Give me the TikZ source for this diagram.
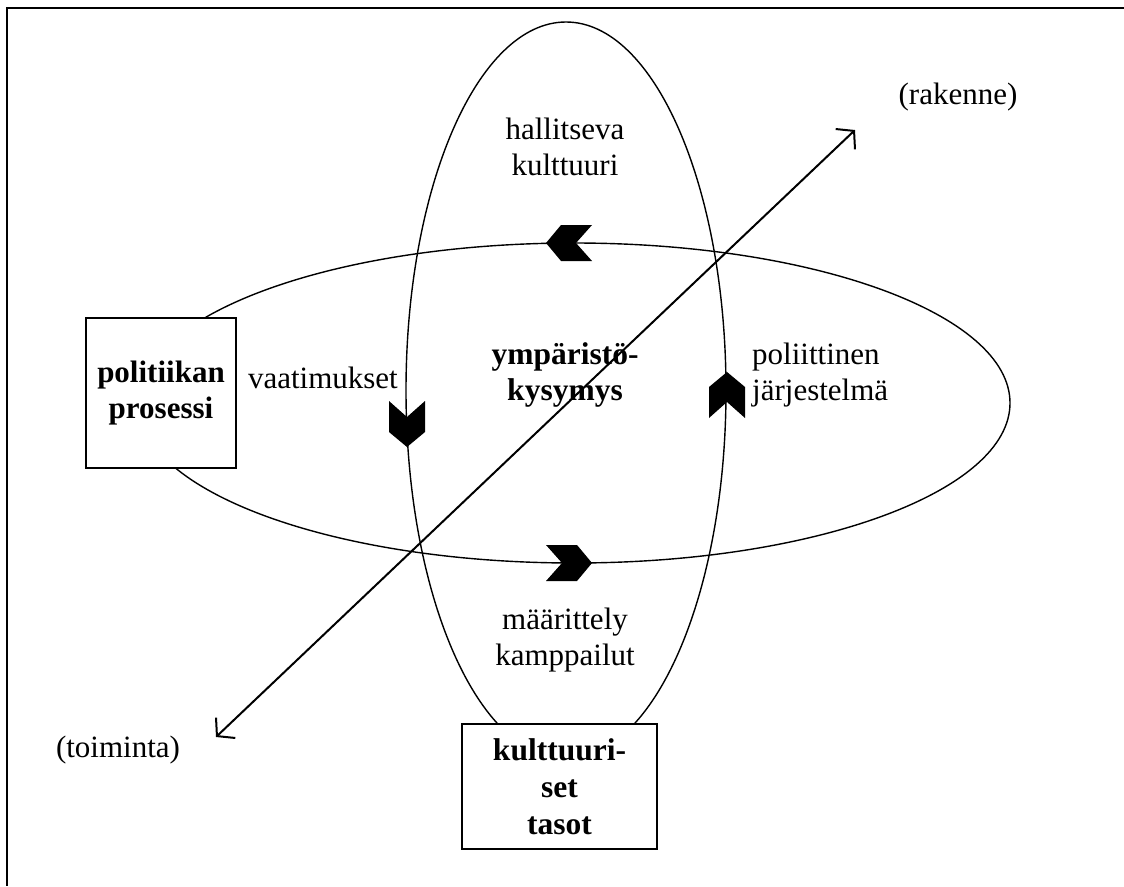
\documentclass[tikz,border=0pt]{standalone}
\usepackage{fontspec}
\setmainfont{Liberation Serif}
\usetikzlibrary{shapes.geometric,arrows.meta}
\begin{document}
\begin{tikzpicture}[x=1pt,y=-1pt,
  reg/.style={font=\fontsize{31}{36}\selectfont, inner sep=0pt, align=center},
  bld/.style={font=\fontsize{31.5}{36}\selectfont\bfseries, inner sep=0pt, align=center},
  ring/.style={draw, line width=1.4pt, ellipse, inner sep=0pt},
  boxnode/.style={draw, fill=white, line width=1.4pt, inner sep=0pt, align=center},
  chevron/.pic={\fill (0,0) -- (-15,18) -- (-46,18) -- (-30,0) -- (-46,-18) -- (-15,-18) -- cycle;}
]
\useasboundingbox (0,0) rectangle (1124,886);
\draw[line width=2.5pt] (1124,8) -- (7,8) -- (7,886);
% ellipses
\node[ring, minimum width=872, minimum height=320] (H) at (574,403) {};
\node[ring, minimum width=320, minimum height=737] (V) at (566,390.5) {};
% boxes
\node[boxnode, minimum width=150, minimum height=150, font=\fontsize{31}{36}\selectfont\bfseries] (P) at (161,393) {politiikan\\prosessi};
\node[boxnode, minimum width=195, minimum height=125, font=\fontsize{31.5}{36.8}\selectfont\bfseries] (K) at (559.5,786.5) {kulttuuri-\\set\\tasot};
% diagonal arrow
\coordinate (T) at (216,737);
\coordinate (R) at (855,130);
\draw[line width=2pt, {Straight Barb[length=12,width=28,line width=2pt]}-{Straight Barb[length=12,width=28,line width=2pt]}] (T) -- (R);
% chevrons
\pic at (592,563) {chevron};
\pic[rotate=180] at (546,243) {chevron};
\pic[rotate=-90] at (407,447) {chevron};
\pic[rotate=90] at (727,372) {chevron};
% texts
\node[reg] (rak) at (958,97) {(rakenne)};
\node[reg] (hal) at (565,147) {hallitseva\\kulttuuri};
\node[reg, anchor=base east] (vaa) at (398,388) {vaatimukset};
\node[bld] (ymp) at (565,375) {ympäristö-\\kysymys};
\node[reg, align=left, anchor=west] (pol) at (752,375) {poliittinen\\järjestelmä};
\node[reg] (maa) at (565,640) {määrittely\\kamppailut};
\node[reg] (toi) at (118,750) {(toiminta)};
\end{tikzpicture}
\end{document}
